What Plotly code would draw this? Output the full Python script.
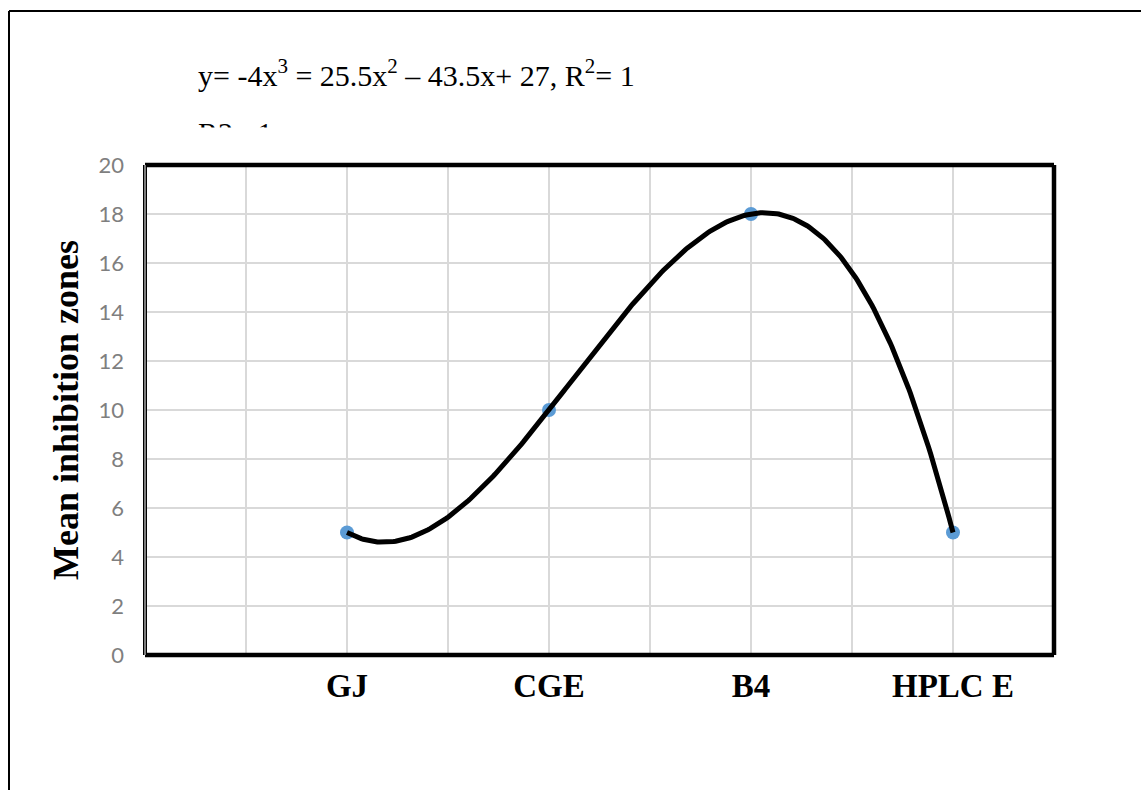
import numpy as np
import plotly.graph_objects as go

# ---- data ----
categories = ["GJ", "CGE", "B4", "HPLC E"]
x_pos = [1, 2, 3, 4]
mean_zones = [5, 10, 18, 5]
y_ticks = [0, 2, 4, 6, 8, 10, 12, 14, 16, 18, 20]
equation_text = "y= -4x<sup>3</sup> = 25.5x<sup>2</sup> – 43.5x+ 27, R<sup>2</sup>= 1"
r2_text = "R2= 1"

# cubic trendline fitted to the data
coef = np.polyfit(x_pos, mean_zones, 3)
xs = np.linspace(min(x_pos), max(x_pos), 300)
ys = np.polyval(coef, xs)

# layout geometry (pixels)
W, H = 1141, 790
L, R, T, B = 145, 1054, 165, 655
def px(x): return (x - L) / (R - L)
def py(y): return (B - y) / (B - T)

fig = go.Figure()
fig.add_trace(go.Scatter(x=x_pos, y=mean_zones, mode="markers",
                         marker=dict(size=14, color="#5B9BD5"),
                         showlegend=False, hoverinfo="skip"))
fig.add_trace(go.Scatter(x=xs, y=ys, mode="lines",
                         line=dict(color="black", width=5),
                         showlegend=False, hoverinfo="skip"))

fig.update_layout(
    width=W, height=H,
    margin=dict(l=L, r=W - R, t=T, b=H - B),
    paper_bgcolor="white", plot_bgcolor="white",
    xaxis=dict(range=[0, 4.5], tickvals=x_pos, ticktext=categories,
               showgrid=True, gridcolor="#d9d9d9", gridwidth=1.5,
               minor=dict(dtick=0.5, tick0=0, showgrid=True, gridcolor="#d9d9d9", gridwidth=1.5),
               ticks="", zeroline=False, showline=False,
               tickfont=dict(family="Liberation Serif", size=33, color="black", weight="bold"),
               ticklabelstandoff=8),
    yaxis=dict(range=[0, 20], tickvals=y_ticks,
               showgrid=True, gridcolor="#d9d9d9", gridwidth=1.5,
               ticks="", zeroline=False, showline=False,
               tickfont=dict(family="Lato", size=22, color="#7f7f7f"),
               ticklabelstandoff=20,
               title=dict(text="<b>Mean inhibition zones</b>", standoff=8,
                          font=dict(family="Liberation Serif", size=36, color="black"))),
)

shapes = []
# plot border
shapes.append(dict(type="line", xref="paper", yref="paper", x0=0, x1=1, y0=1, y1=1,
                   line=dict(color="black", width=4.5)))
shapes.append(dict(type="line", xref="paper", yref="paper", x0=1, x1=1, y0=0, y1=1,
                   line=dict(color="black", width=4.5)))
shapes.append(dict(type="line", xref="paper", yref="paper", x0=0, x1=1, y0=0, y1=0,
                   line=dict(color="black", width=4.5)))
shapes.append(dict(type="line", xref="paper", yref="paper", x0=0, x1=0, y0=0, y1=1,
                   line=dict(color="black", width=4)))
shapes.append(dict(type="line", xref="paper", yref="paper", x0=0, x1=0, y0=0, y1=1,
                   line=dict(color="#a6a6a6", width=1.5)))
# outer frame
shapes.append(dict(type="line", xref="paper", yref="paper", x0=px(9), x1=px(9), y0=py(800), y1=py(11),
                   line=dict(color="black", width=2)))
shapes.append(dict(type="line", xref="paper", yref="paper", x0=px(9), x1=px(1150), y0=py(11), y1=py(11),
                   line=dict(color="black", width=2)))
fig.update_layout(shapes=shapes)

annotations = [
    dict(text=equation_text, xref="paper", yref="paper", x=px(196), y=py(73),
         xanchor="left", yanchor="middle", showarrow=False,
         font=dict(family="Liberation Serif", size=30, color="black")),
    dict(text=r2_text, xref="paper", yref="paper", x=px(196), y=py(132),
         xanchor="left", yanchor="middle", showarrow=False,
         font=dict(family="Liberation Serif", size=30, color="black")),
    # cover lower part of the clipped text
    dict(text=" ", xref="paper", yref="paper", x=px(180), y=py(127),
         xanchor="left", yanchor="top", showarrow=False, width=200, height=22,
         borderpad=0, bgcolor="white"),
]
fig.update_layout(annotations=annotations)

fig.write_html("out.html")
